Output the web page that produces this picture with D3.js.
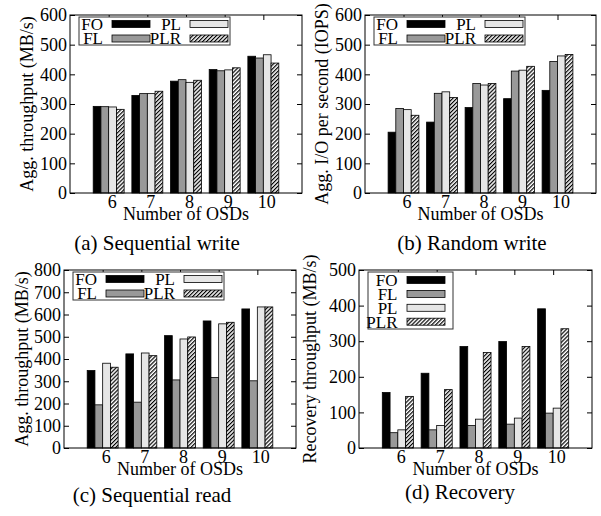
<!DOCTYPE html>
<html>
<head>
<meta charset="utf-8">
<script src="https://cdn.jsdelivr.net/npm/d3@7"></script>
<style>
  body { margin: 0; background: #fff; }
  text { font-family: "Liberation Serif", "Times New Roman", serif; fill: #000; }
</style>
</head>
<body>
<svg id="chart" width="601" height="516"></svg>
<script>
// categories and series
const osds = ["6", "7", "8", "9", "10"];
const schemes = ["FO", "FL", "PL", "PLR"];

// values per scheme (FO, FL, PL, PLR), one row per scheme
const seqWrite = [
    [292, 329, 377, 416, 461],
    [291, 335, 382, 412, 455],
    [290, 335, 373, 415, 466],
    [282, 343, 380, 422, 438]
];
const randWrite = [
    [205, 239, 288, 318, 346],
    [285, 336, 369, 411, 443],
    [281, 341, 364, 414, 462],
    [262, 322, 369, 427, 467]
];
const seqRead = [
    [348, 423, 505, 571, 625],
    [194, 206, 306, 317, 302],
    [381, 427, 490, 558, 634],
    [363, 415, 499, 565, 634]
];
const recovery = [
    [156, 210, 285, 299, 391],
    [43, 51, 63, 67, 98],
    [51, 63, 81, 84, 112],
    [145, 164, 268, 285, 335]
];

const fills = { FO: "#000", FL: "#999", PL: "#e6e6e6", PLR: "url(#hatch)" };

const svg = d3.select("#chart");

// diagonal hatch for PLR
const pat = svg.append("defs").append("pattern")
    .attr("id", "hatch")
    .attr("patternUnits", "userSpaceOnUse")
    .attr("width", 2.8)
    .attr("height", 2.8)
    .attr("patternTransform", "rotate(45)");
pat.append("rect").attr("width", 2.8).attr("height", 2.8).attr("fill", "#fff");
pat.append("line").attr("x1", 0.6).attr("y1", 0).attr("x2", 0.6).attr("y2", 2.8)
    .attr("stroke", "#000").attr("stroke-width", 1.2);

const panels = [
    { data: seqWrite, yMax: 600, left: 70, right: 302, top: 15, bottom: 193,
      ylabel: "Agg. throughput (MB/s)", ylx: 33, caption: "(a) Sequential write", cx: 157, cy: 250, legend: "grid" },
    { data: randWrite, yMax: 600, left: 365, right: 596, top: 15, bottom: 193,
      ylabel: "Agg. I/O per second (IOPS)", ylx: 328, caption: "(b) Random write", cx: 472, cy: 250, legend: "grid" },
    { data: seqRead, yMax: 800, left: 64, right: 296, top: 270, bottom: 448,
      ylabel: "Agg. throughput (MB/s)", ylx: 28, caption: "(c) Sequential read", cx: 152, cy: 502, legend: "grid" },
    { data: recovery, yMax: 500, left: 359, right: 592, top: 270, bottom: 448,
      ylabel: "Recovery throughput (MB/s)", ylx: 316, caption: "(d) Recovery", cx: 460, cy: 499, legend: "column" }
];

panels.forEach(p => drawPanel(p));

function drawPanel(p) {
    const g = svg.append("g");

    const x = d3.scaleLinear().domain([-1, 5]).range([p.left, p.right]);
    const y = d3.scaleLinear().domain([0, p.yMax]).range([p.bottom, p.top]);
    const bw = x(0.2) - x(0);

    // bars
    schemes.forEach((s, j) => {
        g.append("g").selectAll("rect")
            .data(p.data[j])
            .join("rect")
            .attr("x", (d, i) => x(i + (j - 2) * 0.2))
            .attr("y", d => y(d))
            .attr("width", bw)
            .attr("height", d => y(0) - y(d))
            .attr("fill", fills[s])
            .attr("stroke", "#000")
            .attr("stroke-width", 0.8);
    });

    const yTicks = d3.range(0, p.yMax + 1, 100);

    // left axis with labels
    g.append("g")
        .attr("transform", `translate(${p.left},0)`)
        .call(d3.axisLeft(y).tickValues(yTicks).tickSizeInner(-5).tickSizeOuter(0).tickPadding(3))
        .call(a => a.select(".domain").remove())
        .call(a => a.selectAll("text").attr("font-size", 18).attr("font-family", null));

    // right mirror ticks
    g.append("g")
        .attr("transform", `translate(${p.right},0)`)
        .call(d3.axisRight(y).tickValues(yTicks).tickSizeInner(-5).tickSizeOuter(0).tickFormat(""))
        .call(a => a.select(".domain").remove());

    // top mirror ticks
    g.append("g")
        .attr("transform", `translate(0,${p.top})`)
        .call(d3.axisTop(x).tickValues(d3.range(osds.length)).tickSizeInner(-5).tickSizeOuter(0).tickFormat(""))
        .call(a => a.select(".domain").remove());

    // bottom labels
    g.append("g")
        .attr("transform", `translate(0,${p.bottom})`)
        .call(d3.axisBottom(x).tickValues(d3.range(osds.length)).tickSizeInner(0).tickSizeOuter(0)
            .tickPadding(2).tickFormat(i => osds[i]))
        .call(a => a.select(".domain").remove())
        .call(a => a.selectAll("text").attr("font-size", 18).attr("font-family", null).attr("dx", 3));

    // frame
    g.append("rect")
        .attr("x", p.left).attr("y", p.top)
        .attr("width", p.right - p.left).attr("height", p.bottom - p.top)
        .attr("fill", "none").attr("stroke", "#000").attr("stroke-width", 1);

    // axis titles
    g.append("text")
        .attr("x", (p.left + p.right) / 2).attr("y", p.bottom + 27)
        .attr("text-anchor", "middle").attr("font-size", 18)
        .text("Number of OSDs");

    g.append("text")
        .attr("transform", `translate(${p.ylx},${(p.top + p.bottom) / 2}) rotate(-90)`)
        .attr("text-anchor", "middle").attr("font-size", 18)
        .text(p.ylabel);

    // caption
    g.append("text")
        .attr("x", p.cx).attr("y", p.cy)
        .attr("text-anchor", "middle").attr("font-size", 21)
        .text(p.caption);

    // legend
    const lg = g.append("g").attr("transform", `translate(${p.left},${p.top})`);
    let items;
    if (p.legend === "grid") {
        lg.append("rect").attr("x", 9).attr("y", 2).attr("width", 151).attr("height", 28)
            .attr("fill", "#fff").attr("stroke", "#333").attr("stroke-width", 1);
        const pos = { FO: [0, 0], PL: [1, 0], FL: [0, 1], PLR: [1, 1] };
        items = schemes.map(s => ({ s, tx: pos[s][0] ? 111 : 33, sx: pos[s][0] ? 120 : 42, ry: pos[s][1] ? 23.5 : 9 }));
    } else {
        lg.append("rect").attr("x", 9).attr("y", 2).attr("width", 85).attr("height", 57)
            .attr("fill", "#fff").attr("stroke", "#333").attr("stroke-width", 1);
        items = schemes.map((s, k) => ({ s, tx: 38.5, sx: 48, ry: 10 + k * 13.9 }));
    }
    items.forEach(it => {
        lg.append("text")
            .attr("x", it.tx).attr("y", it.ry).attr("dy", "0.35em")
            .attr("text-anchor", "end").attr("font-size", 17)
            .text(it.s);
        lg.append("rect")
            .attr("x", it.sx).attr("y", it.ry - 3.5)
            .attr("width", 38).attr("height", 7)
            .attr("fill", fills[it.s]).attr("stroke", "#000").attr("stroke-width", 0.8);
    });
}
</script>
</body>
</html>
